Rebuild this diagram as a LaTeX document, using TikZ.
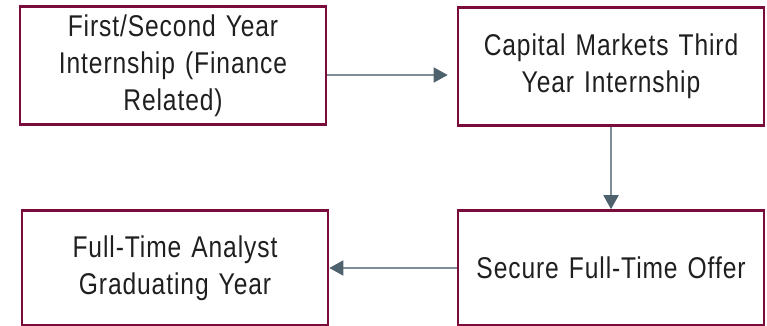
\documentclass[tikz,border=0pt]{standalone}
\usepackage{fontspec}
\setmainfont{Liberation Sans}[FakeStretch=0.82,LetterSpace=3,WordSpace=0.7]
\usetikzlibrary{arrows.meta}
\definecolor{maroon}{RGB}{122,12,60}
\definecolor{flowline}{RGB}{125,140,150}
\definecolor{flowhead}{RGB}{78,98,110}
\begin{document}
\begin{tikzpicture}[x=1pt,y=1pt,
  stage/.style={draw=maroon, line width=2.6pt, minimum width=306pt, align=center,
    text width=296pt, font=\fontsize{30}{37}\selectfont, text=black!88},
  flow/.style={draw=flowline, line width=1.8pt,
    -{Triangle[length=14pt,width=15pt,fill=flowhead,color=flowhead]}}]
\useasboundingbox (0,0) rectangle (767,325);
\node[stage, minimum height=118pt] (1) at (173,259.5) {First/Second Year\\Internship (Finance\\Related)};
\node[stage, minimum height=118pt] (2) at (611,258.5) {Capital Markets Third\\Year Internship};
\node[stage, minimum height=115pt] (3) at (175,57) {Full-Time Analyst\\Graduating Year};
\node[stage, minimum height=115pt] (4) at (611,57) {Secure Full-Time Offer};

\path[flow, shorten >=9pt] ([yshift=-9.5pt]1.east) -- ([yshift=-9.5pt]1.east -| 2.west);
\path[flow] (2) -- (4);
\path[flow] (4) -- (3);
\end{tikzpicture}
\end{document}
